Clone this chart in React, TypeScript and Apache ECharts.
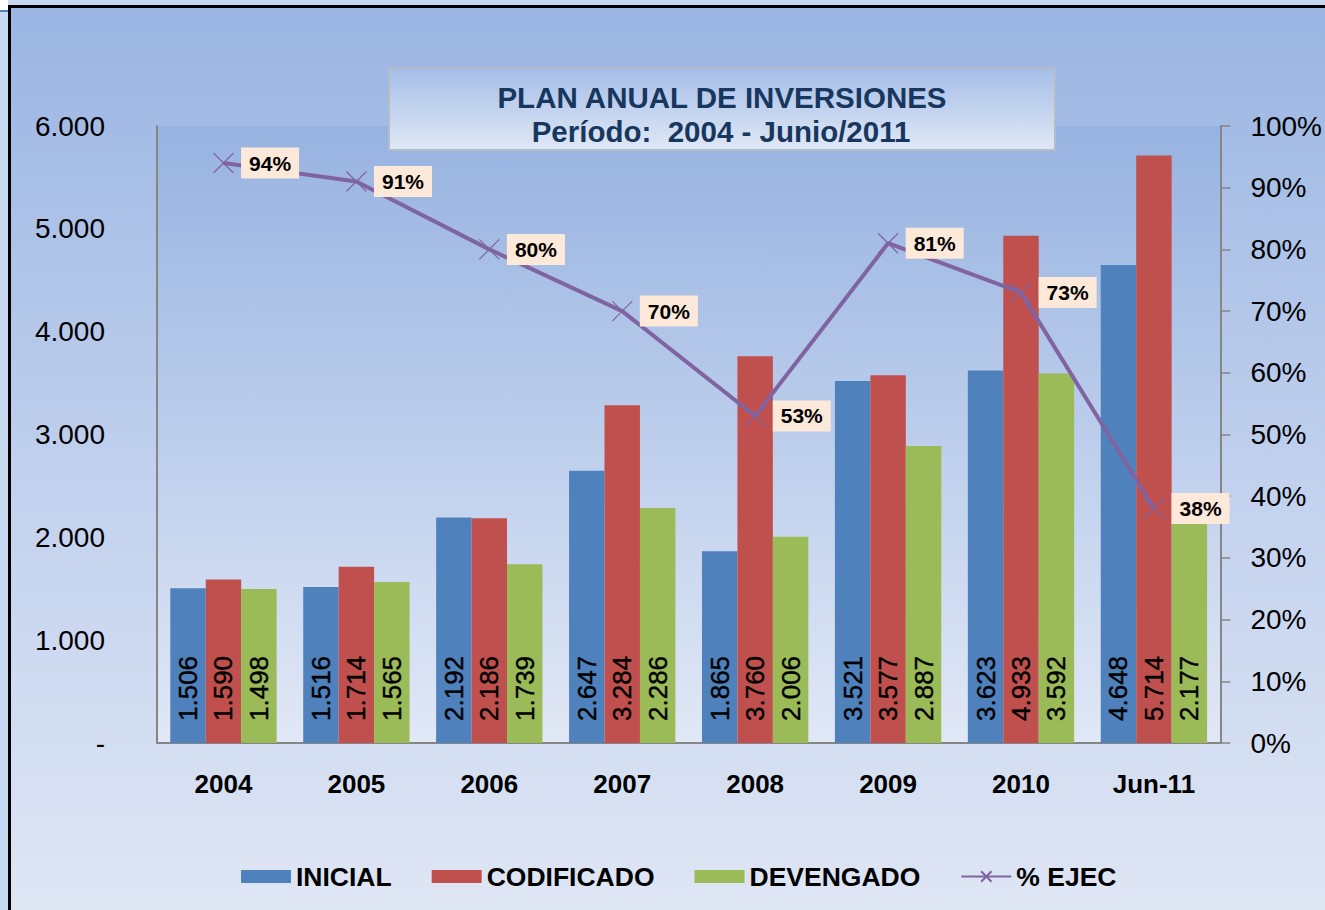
import React, { useEffect, useRef } from "react";
import * as echarts from "echarts";

const categories = ["2004", "2005", "2006", "2007", "2008", "2009", "2010", "Jun-11"];
const inicial = [1506, 1516, 2192, 2647, 1865, 3521, 3623, 4648];
const codificado = [1590, 1714, 2186, 3284, 3760, 3577, 4933, 5714];
const devengado = [1498, 1565, 1739, 2286, 2006, 2887, 3592, 2177];
const ejecucion = [0.94, 0.91, 0.8, 0.7, 0.53, 0.81, 0.73, 0.38];
const leftTicks = { min: 0, max: 6000, interval: 1000 };
const rightTicks = { min: 0, max: 1, interval: 0.1 };
const titleLines = ["PLAN ANUAL DE INVERSIONES", "Período:  2004 - Junio/2011"];

const FONT = "'Liberation Sans', Arial, sans-serif";

function fmtThousands(v: number): string {
  if (v === 0) return "-";
  const th = Math.floor(v / 1000);
  const rest = String(Math.round(v % 1000)).padStart(3, "0");
  return th > 0 ? `${th}.${rest}` : String(v);
}

export default function App() {
  const ref = useRef<HTMLDivElement>(null);

  useEffect(() => {
    if (!ref.current) return;
    const chart = echarts.init(ref.current, null, { renderer: "svg" });

    const barLabel = {
      show: true,
      position: "insideBottom",
      rotate: 90,
      align: "left",
      verticalAlign: "middle",
      distance: 22,
      fontSize: 26,
      color: "#000",
      fontFamily: FONT,
      textBorderColor: "#000",
      textBorderWidth: 0.4,
      formatter: (p: any) => fmtThousands(p.value),
    };

    const option: any = {
      animation: false,
      textStyle: { fontFamily: FONT },
      graphic: [
        {
          type: "group",
          children: [
            {
              type: "rect",
              shape: { x: 389, y: 68, width: 666, height: 82 },
              style: {
                fill: new echarts.graphic.LinearGradient(0, 0, 0, 1, [
                  { offset: 0, color: "#a6bee8" },
                  { offset: 1, color: "#dfe7f5" },
                ]),
                stroke: "#b5bcc6",
                lineWidth: 2,
              },
            },
            {
              type: "text",
              x: 722,
              y: 97,
              style: {
                text: titleLines[0],
                fill: "#17375e",
                font: `bold 29.5px ${FONT}`,
                align: "center",
                verticalAlign: "middle",
              },
            },
            {
              type: "text",
              x: 721,
              y: 131,
              style: {
                text: titleLines[1],
                fill: "#17375e",
                font: `bold 29.5px ${FONT}`,
                align: "center",
                verticalAlign: "middle",
              },
            },
          ],
        },
      ],
      legend: {
        left: 236,
        top: 858,
        itemWidth: 50,
        itemHeight: 13,
        itemGap: 40,
        textStyle: { fontSize: 26.5, fontWeight: "bold", color: "#000", fontFamily: FONT },
        data: [
          { name: "INICIAL", icon: "rect" },
          { name: "CODIFICADO", icon: "rect" },
          { name: "DEVENGADO", icon: "rect" },
          { name: "% EJEC" },
        ],
      },
      grid: {
        left: 157,
        right: 101,
        top: 126,
        bottom: 167,
        show: true,
        borderWidth: 0,
        backgroundColor: new echarts.graphic.LinearGradient(0, 0, 0, 1, [
          { offset: 0, color: "#97b3e1" },
          { offset: 1, color: "#e1e8f6" },
        ]),
      },
      xAxis: {
        type: "category",
        data: categories,
        axisLine: { show: true, lineStyle: { color: "#868686", width: 2 } },
        axisTick: { show: false },
        axisLabel: {
          margin: 28,
          fontSize: 26,
          fontWeight: "bold",
          color: "#000",
          fontFamily: FONT,
        },
      },
      yAxis: [
        {
          type: "value",
          min: leftTicks.min,
          max: leftTicks.max,
          interval: leftTicks.interval,
          axisLine: { show: true, lineStyle: { color: "#868686", width: 2 } },
          axisTick: { show: false },
          splitLine: { show: false },
          axisLabel: {
            margin: 52,
            fontSize: 28,
            color: "#000",
            fontFamily: FONT,
            formatter: (v: number) => fmtThousands(v),
          },
        },
        {
          type: "value",
          position: "right",
          min: rightTicks.min,
          max: rightTicks.max,
          interval: rightTicks.interval,
          axisLine: { show: true, lineStyle: { color: "#868686", width: 2 } },
          axisTick: { show: true, length: 10, lineStyle: { color: "#868686", width: 1.5 } },
          splitLine: { show: false },
          axisLabel: {
            margin: 30,
            fontSize: 28,
            color: "#000",
            fontFamily: FONT,
            formatter: (v: number) => `${Math.round(v * 100)}%`,
          },
        },
      ],
      series: [
        {
          name: "INICIAL",
          type: "bar",
          data: inicial,
          barGap: "0%",
          barCategoryGap: "20%",
          itemStyle: { color: "#4f81bd" },
          label: barLabel,
        },
        {
          name: "CODIFICADO",
          type: "bar",
          data: codificado,
          barGap: "0%",
          barCategoryGap: "20%",
          itemStyle: { color: "#c0504d" },
          label: barLabel,
        },
        {
          name: "DEVENGADO",
          type: "bar",
          data: devengado,
          barGap: "0%",
          barCategoryGap: "20%",
          itemStyle: { color: "#9bbb59" },
          label: barLabel,
        },
        {
          name: "% EJEC",
          type: "line",
          yAxisIndex: 1,
          data: ejecucion,
          symbol: "path://M0,0L10,10M10,0L0,10",
          symbolSize: 20,
          lineStyle: { color: "#8064a2", width: 4 },
          itemStyle: { color: "#8064a2", borderColor: "#8064a2", borderWidth: 1.2 },
          label: {
            show: true,
            position: "right",
            distance: 7,
            formatter: (p: any) => `${Math.round(p.value * 100)}%`,
            backgroundColor: "#fde9d9",
            padding: [6, 8, 4, 8],
            fontSize: 21,
            fontWeight: "bold",
            color: "#000",
            fontFamily: FONT,
          },
          z: 5,
        },
      ],
    };

    chart.setOption(option);
    return () => chart.dispose();
  }, []);

  return (
    <div
      style={{
        position: "fixed",
        left: 0,
        top: 0,
        width: 1325,
        height: 910,
        background: "#c6d9f1",
        overflow: "hidden",
      }}
    >
      <div style={{ position: "absolute", left: 0, top: 0, width: 8, height: 10, background: "#ffffff" }} />
      <div style={{ position: "absolute", left: 0, top: 10, width: 8, height: 2, background: "#4f81bd" }} />
      <div
        style={{
          position: "absolute",
          left: 8,
          top: 5,
          width: 1317,
          height: 905,
          boxSizing: "border-box",
          borderLeft: "3px solid #000",
          borderTop: "3px solid #000",
          background: "linear-gradient(to bottom, #9ab5e2 0%, #c3d2ee 55%, #dfe6f4 100%)",
        }}
      />
      <div ref={ref} style={{ position: "absolute", left: 0, top: 0, width: 1325, height: 910 }} />
    </div>
  );
}
